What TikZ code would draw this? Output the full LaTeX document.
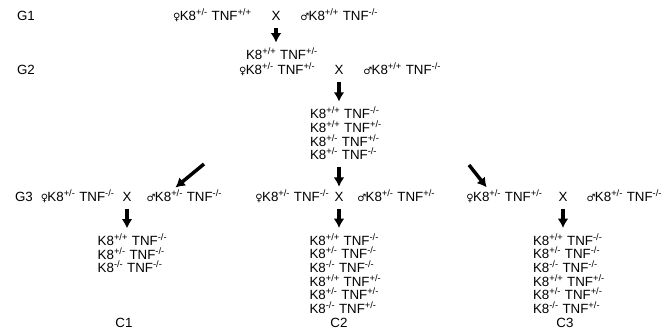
\documentclass[tikz,border=0pt]{standalone}
\usepackage{fontspec}
\setmainfont{Liberation Sans}
\newfontfamily\symfont{DejaVu Sans}
\usetikzlibrary{arrows.meta,positioning}

\newcommand{\geno}[2]{K8\textsuperscript{#1} TNF\textsuperscript{#2}}
\newcommand{\fem}{{\symfont\bfseries\fontsize{7.5}{8}\selectfont ♀}\kern-0.5pt}
\newcommand{\mal}{{\symfont\bfseries\fontsize{7.5}{8}\selectfont ♂}\kern-0.5pt}

\begin{document}
\begin{tikzpicture}[
  x=0.75pt, y=-0.75pt,
  font=\fontsize{10}{10.2}\selectfont,
  every node/.style={inner sep=1pt},
  gen/.style={align=left},
  arrow/.style={-{Latex[length=7pt,width=8pt]}, line width=2.6pt,
    shorten <=4pt, shorten >=3pt}
]
\useasboundingbox (0,0) rectangle (661,331);

% generations
\node (g1) at (26,16) {G1};
\node (g2) at (26,70) {G2};
\node (g3) at (24,197) {G3};

% first cross
\node (x1) at (276,16) {X};
\node[base left=12.5pt of x1] (f1) {\fem\geno{+/-}{+/+}};
\node[base right=12.5pt of x1] (m1) {\mal\geno{+/+}{-/-}};
\node[gen] (o1) at (282,54) {\geno{+/+}{+/-}};

% second cross
\node (x2) at (339,70) {X};
\node[base left=12pt of x2] (f2) {\fem\geno{+/-}{+/-}};
\node[base right=12.5pt of x2] (m2) {\mal\geno{+/+}{-/-}};
\node[gen] (o2) at (346,133.5) {\geno{+/+}{-/-}\\ \geno{+/+}{+/-}\\
  \geno{+/-}{+/-}\\ \geno{+/-}{-/-}};

% third crosses
\node (x3a) at (127,197) {X};
\node[base left=3.5pt of x3a] (f3a) {\fem\geno{+/-}{-/-}};
\node[base right=9pt of x3a] (m3a) {\mal\geno{+/-}{-/-}};
\node (x3b) at (339,197) {X};
\node[base left=1.5pt of x3b] (f3b) {\fem\geno{+/-}{-/-}};
\node[base right=8pt of x3b] (m3b) {\mal\geno{+/-}{+/-}};
\node (x3c) at (563,197) {X};
\node[base left=9.5pt of x3c] (f3c) {\fem\geno{+/-}{+/-}};
\node[base right=12pt of x3c] (m3c) {\mal\geno{+/-}{-/-}};

% offspring
\node[gen] (k1) at (132.5,253.5) {\geno{+/+}{-/-}\\ \geno{+/-}{-/-}\\
  \geno{-/-}{-/-}};
\node[gen] (k2) at (345.5,273.5) {\geno{+/+}{-/-}\\ \geno{+/-}{-/-}\\
  \geno{-/-}{-/-}\\ \geno{+/+}{+/-}\\ \geno{+/-}{+/-}\\ \geno{-/-}{+/-}};
\node[gen] (k3) at (569,273.5) {\geno{+/+}{-/-}\\ \geno{+/-}{-/-}\\
  \geno{-/-}{-/-}\\ \geno{+/+}{+/-}\\ \geno{+/-}{+/-}\\ \geno{-/-}{+/-}};
\node (c1) at (124,323) {C1};
\node (c2) at (339,323) {C2};
\node (c3) at (565,323) {C3};

\coordinate (tl) at (204,164);
\coordinate (tr) at (469,165);

\draw[arrow] (x1.south) -- (x1.south |- o1.north);
\draw[arrow] (x2.south) -- (x2.south |- o2.north);
\draw[arrow] (x3b |- o2.south) -- (x3b.north);
\draw[arrow, shorten <=0pt, shorten >=1pt] (tl) -- ([xshift=22pt]m3a.north west);
\draw[arrow, shorten <=0pt, shorten >=1pt] (tr) -- ([xshift=17pt]f3c.north west);
\draw[arrow] (x3a.south) -- (x3a.south |- k1.north);
\draw[arrow] (x3b.south) -- (x3b.south |- k2.north);
\draw[arrow] (x3c.south) -- (x3c.south |- k3.north);
\end{tikzpicture}
\end{document}
